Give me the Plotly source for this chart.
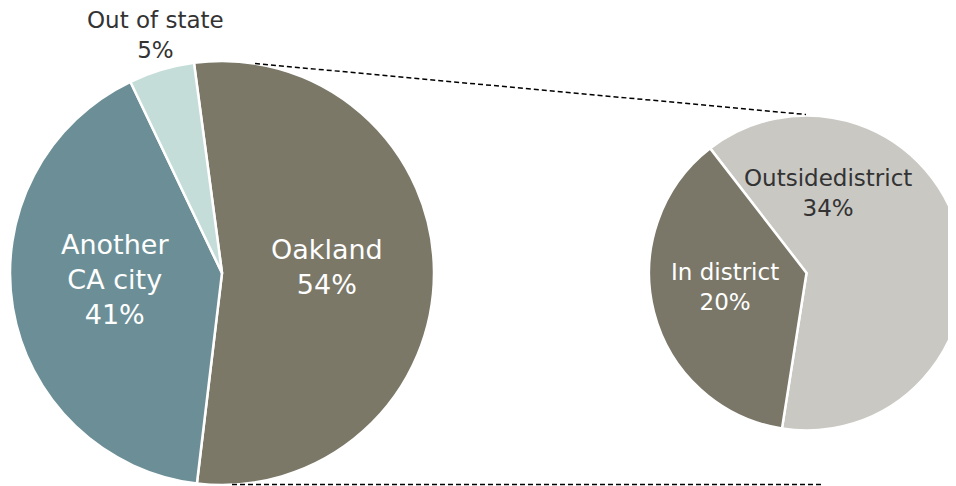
import plotly.graph_objects as go

# ---- data ----
main_labels = ["Oakland", "Another CA city", "Out of state"]
main_display = ["Oakland", "Another<br>CA city", "Out of state"]
main_values = [54, 41, 5]
main_colors = ["#7b7868", "#6c8f97", "#c4ddd8"]

sub_labels = ["Outside district", "In district"]
sub_display = ["Outsidedistrict", "In district"]
sub_values = [34, 20]
sub_colors = ["#c9c8c3", "#7a7768"]

W, H = 956, 486
OFF = 8  # page body margin

def px(x):
    # window pixel x -> paper
    return (x - OFF) / W

def py(y):
    # window pixel y -> paper
    return 1 - (y - OFF) / H

# pie geometry (window pixels)
L_CX, L_CY, L_R = 222, 273, 212
R_X0 = 649
R_R = (W + OFF - R_X0) / 2
R_CX, R_CY = R_X0 + R_R, 273

fig = go.Figure()
fig.add_trace(go.Pie(
    labels=main_labels, values=main_values, sort=False, direction="clockwise",
    rotation=-7.6, textinfo="none", hoverinfo="label+percent",
    marker=dict(colors=main_colors, line=dict(color="white", width=2.5)),
    domain=dict(x=[px(L_CX - L_R), px(L_CX + L_R)], y=[py(L_CY + L_R), py(L_CY - L_R)]),
    showlegend=False,
))
fig.add_trace(go.Pie(
    labels=sub_labels, values=sub_values, sort=False, direction="clockwise",
    rotation=-37.7, textinfo="none", hoverinfo="label+value",
    marker=dict(colors=sub_colors, line=dict(color="white", width=2.5)),
    domain=dict(x=[px(R_X0), 1], y=[py(R_CY + R_R), py(R_CY - R_R)]),
    showlegend=False,
))

FONT = "DejaVu Sans"
# labels
main_pos = [(327, 267, "white", 27), (115, 279, "white", 27), (155, 35, "#333333", 23)]
sub_pos = [(828, 193, "#333333", 23), (725, 287, "white", 23)]
anns = []
for (x, y, c, s), lab, v in zip(main_pos, main_display, main_values):
    anns.append(dict(x=px(x), y=py(y), xref="paper", yref="paper", showarrow=False,
                     text=f"{lab}<br>{v}%", font=dict(family=FONT, size=s, color=c),
                     xanchor="center", yanchor="middle", align="center", borderpad=0))
for (x, y, c, s), lab, v in zip(sub_pos, sub_display, sub_values):
    anns.append(dict(x=px(x), y=py(y), xref="paper", yref="paper", showarrow=False,
                     text=f"{lab}<br>{v}%", font=dict(family=FONT, size=s, color=c),
                     xanchor="center", yanchor="middle", align="center", borderpad=0))

# connector lines
dash = "5px,3px"
shapes = [
    dict(type="line", xref="paper", yref="paper",
         x0=px(255), y0=py(63.5), x1=px(806), y1=py(R_CY - R_R - 1),
         line=dict(color="black", width=1.5, dash=dash)),
    dict(type="line", xref="paper", yref="paper",
         x0=px(232), y0=py(484.5), x1=px(822), y1=py(484.5),
         line=dict(color="black", width=1.5, dash=dash)),
]

fig.update_layout(
    width=W, height=H, autosize=False,
    margin=dict(l=0, r=0, t=0, b=0),
    paper_bgcolor="white", plot_bgcolor="white",
    annotations=anns, shapes=shapes,
)
fig.write_html("out.html")
